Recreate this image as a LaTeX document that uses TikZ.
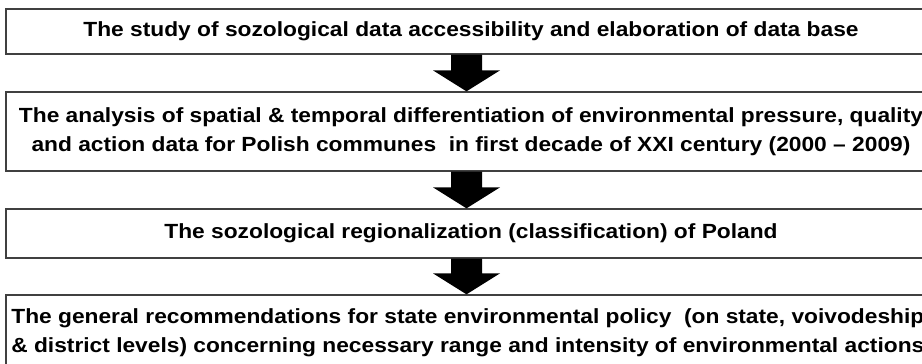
\documentclass[tikz,border=0pt]{standalone}
\usepackage{fontspec}
\setmainfont{Liberation Sans}[FakeStretch=1.11]
\usetikzlibrary{calc}
\begin{document}
\begin{tikzpicture}[x=1pt,y=-1pt,
  box/.style={draw=black!75, line width=1.3pt, fill=white, rectangle, inner sep=0pt,
    font=\fontsize{20.5}{29}\selectfont\bfseries, align=center},
  fatarrow/.style={fill=black, draw=none}]
\clip (0,0) rectangle (922,364);
\fill[white] (0,0) rectangle (922,364);
\node[box, minimum width=930pt, minimum height=45pt] (b1) at (471,31.5)
  {The study of sozological data accessibility and elaboration of data base};
\node[box, minimum width=930pt, minimum height=79pt] (b2) at (471,131.5)
  {The analysis of spatial \& temporal differentiation of environmental pressure, quality\\
   and action data for Polish communes~ in first decade of XXI century (2000 -- 2009)};
\node[box, minimum width=930pt, minimum height=49pt] (b3) at (471,233.5)
  {The sozological regionalization (classification) of Poland};
\node[box, minimum width=930pt, minimum height=75pt] (b4) at (471,332.5)
  {The general recommendations for state environmental policy~ (on state, voivodeship,\\
   \& district levels) concerning necessary range and intensity of environmental actions.};
\coordinate (ax) at (466.5,0);
\foreach \a/\b in {b1/b2,b2/b3,b3/b4}{
  \fill[fatarrow]
    ($(ax|-\a.south)+(-15.5pt,0)$) -- ($(ax|-\a.south)+(15.5pt,0)$)
    -- ($(ax|-\b.north)+(15.5pt,21pt)$) -- ($(ax|-\b.north)+(33.5pt,21pt)$)
    -- (ax|-\b.north)
    -- ($(ax|-\b.north)+(-33.5pt,21pt)$) -- ($(ax|-\b.north)+(-15.5pt,21pt)$) -- cycle;
}
\end{tikzpicture}
\end{document}
